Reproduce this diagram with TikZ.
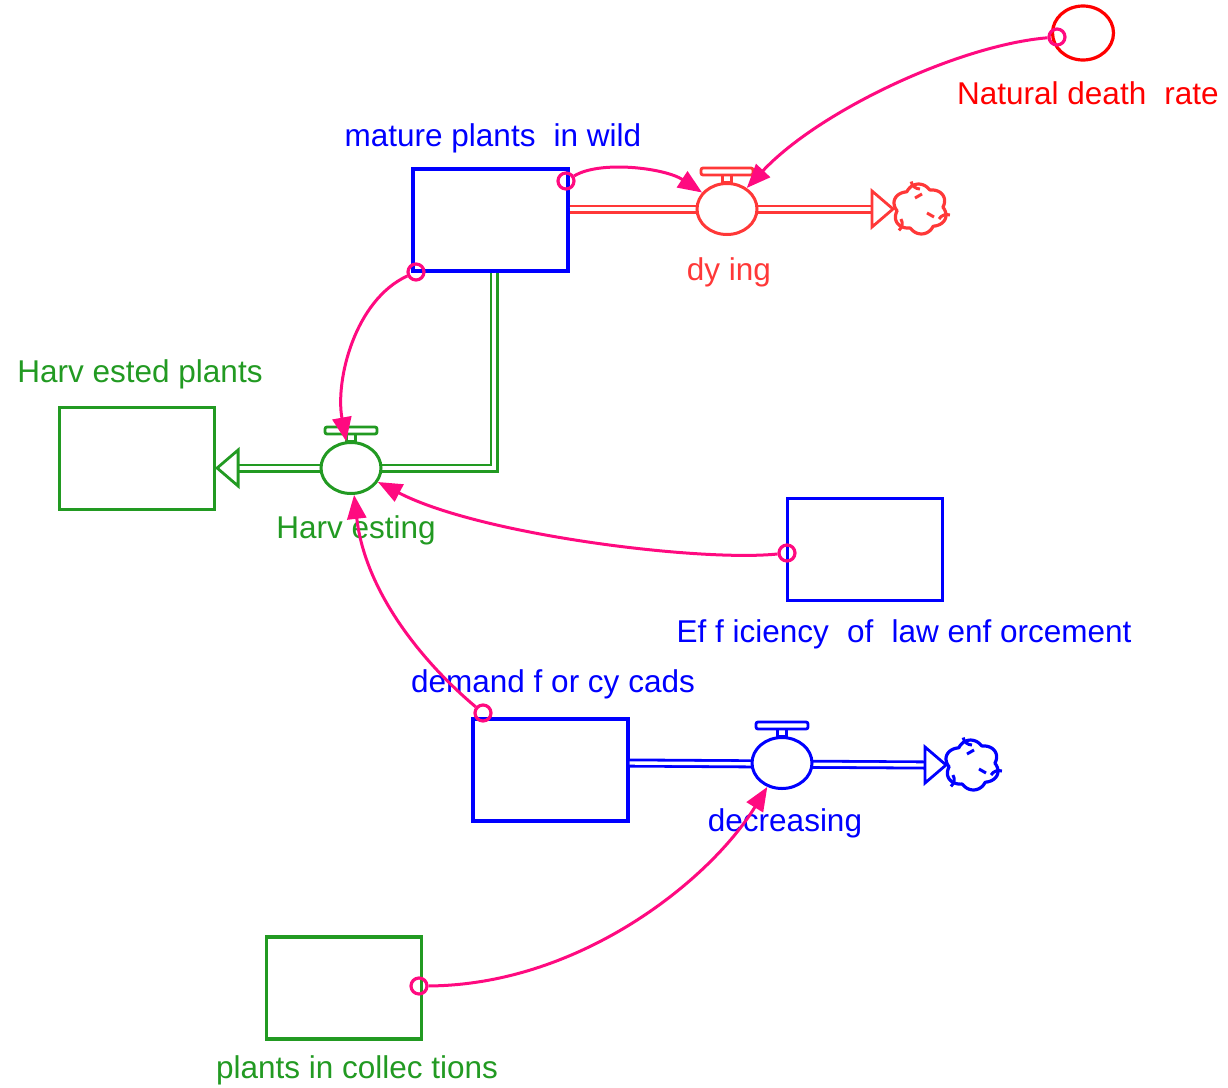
\documentclass[tikz,border=0pt]{standalone}
\usepackage{fontspec}
\setmainfont{Liberation Sans}
\usetikzlibrary{arrows.meta,shapes.geometric,calc}

\definecolor{sfblue}{HTML}{0000FF}
\definecolor{sfgreen}{HTML}{229A22}
\definecolor{sfred}{HTML}{FF3838}
\definecolor{sfpure}{HTML}{FF0000}
\definecolor{linkpink}{HTML}{FF0A80}

\tikzset{
  stock/.style={draw, line width=3.2pt, fill=white, minimum width=155pt, minimum height=102pt, inner sep=0pt},
  valve/.style={ellipse, draw, line width=3pt, fill=white, minimum width=60pt, minimum height=51pt, inner sep=0pt},
  pipe/.style={double=white, double distance=3.4pt, line width=2.8pt},
  link/.style={draw=linkpink, line width=3pt, -{Triangle[length=24pt,width=19pt]}},
  tap/.style={circle, draw=linkpink, line width=3.2pt, minimum size=16pt, inner sep=0pt},
  lbl/.style={font=\fontsize{31.5}{36}\selectfont, anchor=base, inner sep=0pt},
  handle/.pic={
    \draw[line width=2.8pt, fill=white] (-4.5,0) rectangle (4.5,-7);
    \draw[line width=2.8pt, fill=white, rounded corners=2pt] (-26,-7) rectangle (26,-14);
  },
  openhead/.pic={
    \draw[line width=2.8pt, fill=white, line join=miter] (0,-18) -- (21,0) -- (0,18) -- cycle;
  },
  cloud/.pic={
    \draw[line width=3.2pt, fill=white]
      plot[domain=0:360, samples=181, smooth cycle]
      ({(23+4.5*abs(sin(3*\x+15)))*cos(\x)}, {(21+4*abs(sin(3*\x+15)))*sin(\x)});
    \foreach \a in {30,150,270}{
      \draw[line width=3pt] ({22*cos(\a)},{20*sin(\a)}) arc[start angle=\a+180, end angle=\a+260, radius=9];
    }
    \draw[line width=3pt] (-5,-11) -- (2,-15);
    \draw[line width=3pt] (7,4) -- (14,8);
  }
}

\begin{document}
\begin{tikzpicture}[x=1pt, y=-1pt]
  \useasboundingbox (0,0) rectangle (1228,1087);

  % stocks
  \node[stock, draw=sfblue] (mature) at (490.5,220) {};
  \node[stock, draw=sfgreen] (harvested) at (137,458.5) {};
  \node[stock, draw=sfblue] (efficiency) at (865,549.5) {};
  \node[stock, draw=sfblue] (demand) at (550.5,770) {};
  \node[stock, draw=sfgreen] (collections) at (344,988) {};

  % auxiliary
  \node[ellipse, draw=sfpure, line width=3.2pt, minimum width=61pt, minimum height=54pt, inner sep=0pt] (deathrate) at (1083,33) {};

  % sinks
  \coordinate (dysink) at (920,209);
  \coordinate (dcsink) at (972,765);

  % valve positions
  \coordinate (dyc) at (727,209);
  \coordinate (hvc) at (351,468);
  \coordinate (dcc) at (782,763);

  % flow pipes
  \draw[pipe, draw=sfred] (mature.east |- dyc) -- ($(dysink)+(-48,0)$);
  \draw[pipe, draw=sfgreen] ([xshift=3.5pt]mature.south) -- ([xshift=3.5pt]mature.south |- hvc) -- ($(harvested.east |- hvc)+(22,0)$);
  \draw[pipe, draw=sfblue] (demand.east |- dcc) -- ($(dcsink)+(-47,0)$);

  % valves
  \node[valve, draw=sfred] (dyv) at (dyc) {};
  \node[valve, draw=sfgreen] (hv) at (hvc) {};
  \node[valve, draw=sfblue] (dcv) at (dcc) {};
  \pic[draw=sfred] at (dyv.north) {handle};
  \pic[draw=sfgreen] at (hv.north) {handle};
  \pic[draw=sfblue] at (dcv.north) {handle};

  % arrowheads and clouds
  \pic[draw=sfred] at ($(dysink)+(-48,0)$) {openhead};
  \pic[draw=sfblue] at ($(dcsink)+(-47,0)$) {openhead};
  \pic[draw=sfgreen, xscale=-1] at ($(harvested.east |- hvc)+(22,0)$) {openhead};
  \pic[draw=sfred] at (dysink) {cloud};
  \pic[draw=sfblue] at (dcsink) {cloud};

  % labels
  \node[lbl, text=sfblue] (lmature) at (493,146) {mature plants\hspace{0.3em} in wild};
  \node[lbl, text=sfpure] (ldeath) at (1088,104) {Natural death\hspace{0.3em} rate};
  \node[lbl, text=sfred] (ldying) at (729,280) {dy ing};
  \node[lbl, text=sfgreen] (lharvested) at (140,382) {Harv ested plants};
  \node[lbl, text=sfgreen] (lharvesting) at (356,538) {Harv esting};
  \node[lbl, text=sfblue] (lefficiency) at (904,642) {Ef f iciency\hspace{0.3em} of\hspace{0.3em} law enf orcement};
  \node[lbl, text=sfblue] (ldemand) at (553,692) {demand f or cy cads};
  \node[lbl, text=sfblue] (ldecreasing) at (785,831) {decreasing};
  \node[lbl, text=sfgreen] (lcollections) at (357,1078) {plants in collec tions};

  % connector taps
  \node[tap] (t1) at (566,181) {};
  \node[tap] (t2) at (1057,37) {};
  \node[tap] (t3) at (416,272) {};
  \node[tap] (t4) at (787,553) {};
  \node[tap] (t5) at (483,713) {};
  \node[tap] (t6) at (419,986) {};

  % connectors
  \draw[link] (t1) .. controls (600,160) and (665,168) .. (dyv);
  \draw[link] (t2) .. controls (960,45) and (820,110) .. (dyv);
  \draw[link] (t3) .. controls (355,300) and (335,380) .. (hv);
  \draw[link] (t4) .. controls (700,562) and (480,535) .. (hv);
  \draw[link] (t5) .. controls (420,660) and (365,590) .. (hv);
  \draw[link] (t6) .. controls (580,985) and (710,880) .. (dcv);
\end{tikzpicture}
\end{document}
